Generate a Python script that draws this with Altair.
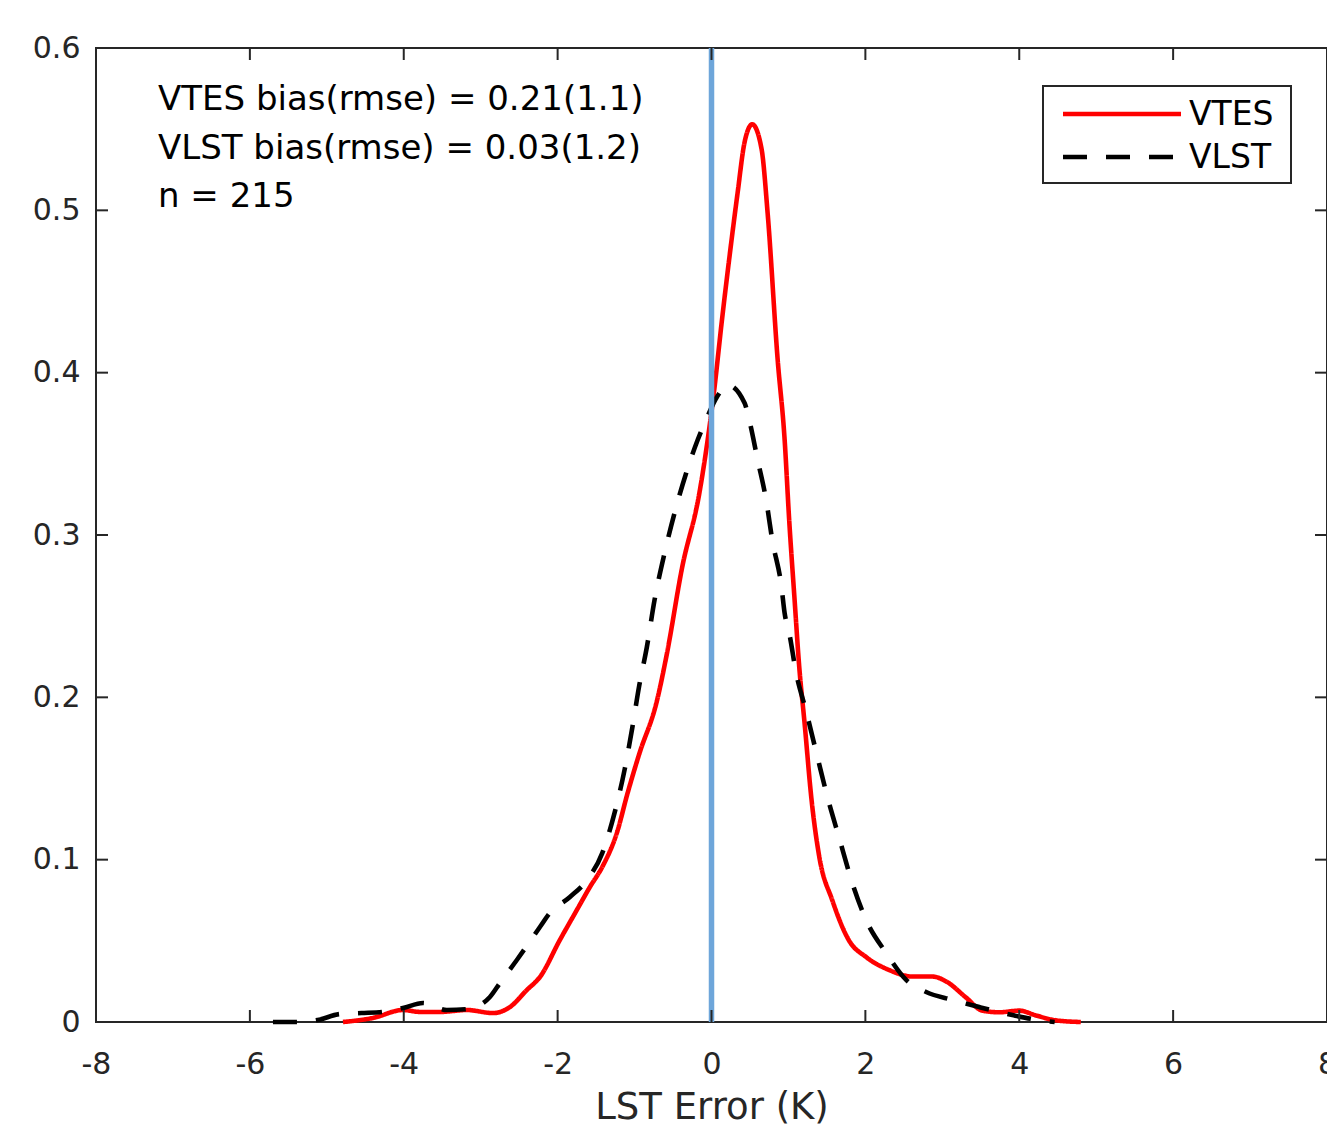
import altair as alt
import pandas as pd

# ---- data ----
vtes_x = [-4.79, -4.40, -4.01, -3.79, -3.53, -3.18, -2.84, -2.62, -2.40, -2.23,
          -1.97, -1.75, -1.58, -1.42, -1.23, -1.09, -0.94, -0.71, -0.58, -0.38,
          -0.16, -0.05, 0.04, 0.13, 0.23, 0.34, 0.43, 0.53, 0.65, 0.73,
          0.86, 0.95, 1.01, 1.08, 1.14, 1.21, 1.30, 1.40, 1.57, 1.79,
          2.01, 2.31, 2.61, 2.87, 3.05, 3.31, 3.52, 3.74, 4.00, 4.22, 4.48, 4.80]
vtes_y = [0.000, 0.0025, 0.0074, 0.0062, 0.0062, 0.0074, 0.0055, 0.0092, 0.0197, 0.0277,
          0.0506, 0.0690, 0.0832, 0.0955, 0.1165, 0.1411, 0.1650, 0.1977, 0.2268, 0.2804,
          0.3252, 0.3585, 0.3912, 0.430, 0.470, 0.511, 0.542, 0.553, 0.538, 0.498,
          0.408, 0.359, 0.309, 0.260, 0.219, 0.184, 0.137, 0.102, 0.075, 0.050,
          0.040, 0.032, 0.028, 0.028, 0.025, 0.015, 0.007, 0.006, 0.007, 0.004, 0.001, 0.000]

vlst_x = [-5.70, -5.39, -5.12, -4.83, -4.55, -4.27, -4.01, -3.75, -3.44, -3.17,
          -2.88, -2.75, -2.53, -2.23, -2.10, -1.84, -1.62, -1.42, -1.26, -1.13,
          -1.03, -0.94, -0.84, -0.74, -0.61, -0.48, -0.33, -0.18, -0.07, 0.07,
          0.21, 0.43, 0.49, 0.60, 0.71, 0.79, 0.91, 0.95, 1.01, 1.10,
          1.23, 1.38, 1.51, 1.66, 1.83, 2.01, 2.27, 2.53, 2.79, 3.13,
          3.48, 3.91, 4.35, 4.46]
vlst_y = [0.000, 0.000, 0.0012, 0.0049, 0.0055, 0.0062, 0.0086, 0.0117, 0.0074, 0.0080,
          0.0154, 0.0240, 0.0382, 0.0585, 0.0672, 0.0770, 0.0874, 0.1040, 0.1288, 0.1553,
          0.1811, 0.2070, 0.2310, 0.2600, 0.2889, 0.3136, 0.3380, 0.3585, 0.3710, 0.3850,
          0.3924, 0.3813, 0.3709, 0.3462, 0.3216, 0.2969, 0.2680, 0.2520, 0.2397, 0.2150,
          0.1915, 0.1626, 0.1380, 0.1133, 0.0856, 0.0628, 0.0425, 0.0259, 0.0185, 0.0136,
          0.0092, 0.0043, 0.0005, 0.000]

series_names = ["VTES", "VLST"]
series_colors = ["#FF0000", "#000000"]
x_ticks = [-8, -6, -4, -2, 0, 2, 4, 6, 8]
y_ticks = [0, 0.1, 0.2, 0.3, 0.4, 0.5, 0.6]
annotation_lines = ["VTES bias(rmse) = 0.21(1.1)",
                    "VLST bias(rmse) = 0.03(1.2)",
                    "n = 215"]
x_title = "LST Error (K)"
zero_line = [0]

W, H = 1231, 974
FONT = "DejaVu Sans"
AX = "#262626"
DASH = [24, 19]
LW = 4.6

curves = pd.concat([
    pd.DataFrame({"x": vtes_x, "y": vtes_y, "series": series_names[0], "order": range(len(vtes_x))}),
    pd.DataFrame({"x": vlst_x, "y": vlst_y, "series": series_names[1], "order": range(len(vlst_x))}),
])

xscale = alt.Scale(domain=[-8, 8], nice=False, zero=False)
yscale = alt.Scale(domain=[0, 0.6], nice=False, zero=False)

xaxis = alt.Axis(values=x_ticks, labelExpr="'' + datum.value", labelFlush=False,
                 ticks=False, domain=False, grid=False, labelPadding=27,
                 title=x_title, titleY=96, titleBaseline="alphabetic")
yaxis = alt.Axis(values=y_ticks,
                 labelExpr="datum.value == 0 ? '0' : format(datum.value, '.1f')",
                 ticks=False, domain=False, grid=False, labelPadding=16, title="")

zero_rule = alt.Chart(pd.DataFrame({"x": zero_line})).mark_rule(
    color="#6EA6DA", strokeWidth=5.5
).encode(x=alt.X("x:Q", scale=xscale, axis=xaxis))

lines = alt.Chart(curves).mark_line(strokeWidth=LW, interpolate="monotone").encode(
    x=alt.X("x:Q", scale=xscale, axis=xaxis),
    y=alt.Y("y:Q", scale=yscale, axis=yaxis),
    color=alt.Color("series:N", scale=alt.Scale(domain=series_names, range=series_colors), legend=None),
    strokeDash=alt.StrokeDash("series:N", scale=alt.Scale(domain=series_names, range=[[1, 0], DASH]), legend=None),
    detail="series:N",
    order="order:Q",
)

xt = pd.DataFrame({"v": x_ticks})
yt = pd.DataFrame({"v": y_ticks})
tick_style = dict(color=AX, strokeWidth=2)
tick_bottom = alt.Chart(xt).mark_rule(**tick_style).encode(
    x=alt.X("v:Q", scale=xscale), y=alt.value(H), y2=alt.value(H - 12))
tick_top = alt.Chart(xt).mark_rule(**tick_style).encode(
    x=alt.X("v:Q", scale=xscale), y=alt.value(0), y2=alt.value(12))
tick_left = alt.Chart(yt).mark_rule(**tick_style).encode(
    y=alt.Y("v:Q", scale=yscale), x=alt.value(0), x2=alt.value(12))
tick_right = alt.Chart(yt).mark_rule(**tick_style).encode(
    y=alt.Y("v:Q", scale=yscale), x=alt.value(W), x2=alt.value(W - 12))

ann_layers = []
for i, t in enumerate(annotation_lines):
    ann_layers.append(
        alt.Chart(pd.DataFrame({"t": [t]})).mark_text(
            align="left", baseline="alphabetic", font=FONT, fontSize=34, color="#000000"
        ).encode(x=alt.value(62), y=alt.value(62 + 48.5 * i), text="t:N")
    )

# legend box drawn from the series names
leg_box = alt.Chart(pd.DataFrame({"a": [0]})).mark_rect(
    fill="white", stroke=AX, strokeWidth=2
).encode(x=alt.value(947), x2=alt.value(1195), y=alt.value(38), y2=alt.value(135))

leg_layers = [leg_box]
leg_rows = [66, 109]
for i, name in enumerate(series_names):
    d = pd.DataFrame({"s": [name]})
    kw = dict(color=series_colors[i], strokeWidth=LW)
    if i == 1:
        kw["strokeDash"] = DASH
    leg_layers.append(alt.Chart(d).mark_rule(**kw).encode(
        x=alt.value(967), x2=alt.value(1085), y=alt.value(leg_rows[i])))
    leg_layers.append(alt.Chart(d).mark_text(
        align="left", baseline="middle", font=FONT, fontSize=33, color="#000000"
    ).encode(x=alt.value(1093), y=alt.value(leg_rows[i] + 1), text="s:N"))

chart = alt.layer(
    lines, zero_rule, tick_bottom, tick_top, tick_left, tick_right,
    *ann_layers, *leg_layers
).properties(
    width=W, height=H,
    padding={"left": 88, "top": 40, "right": 0, "bottom": 104},
    autosize=alt.AutoSizeParams(type="none"),
).configure_view(
    stroke=AX, strokeWidth=2
).configure_axis(
    labelFont=FONT, labelFontSize=30, labelColor=AX,
    titleFont=FONT, titleFontSize=37, titleFontWeight="normal", titleColor=AX,
)

chart.save("out.html", embed_options={"renderer": "svg", "actions": False})
